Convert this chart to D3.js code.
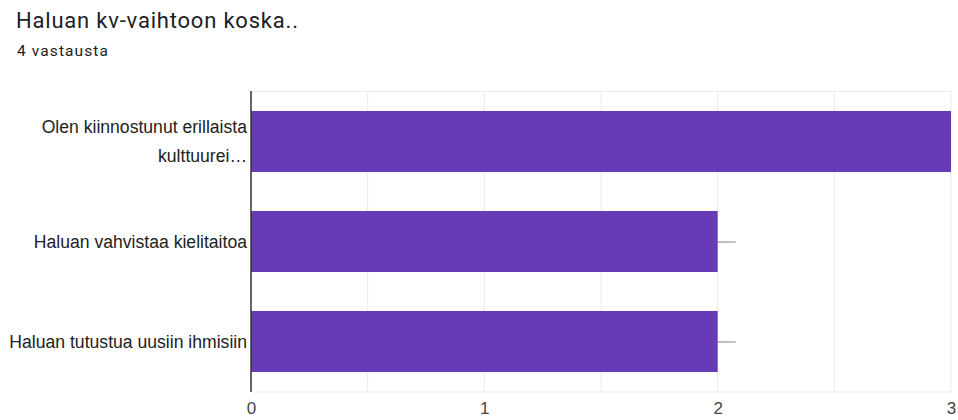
<!DOCTYPE html>
<html><head><meta charset="utf-8">
<script src="https://cdn.jsdelivr.net/npm/d3@7/dist/d3.min.js"></script>
<style>body{margin:0;background:#fff;}svg{display:block;font-family:Roboto,Arial,sans-serif;}</style>
</head><body><svg id="c" width="958" height="420"></svg>
<script>
const categories = [["Olen kiinnostunut erillaista","kulttuurei…"],["Haluan vahvistaa kielitaitoa"],["Haluan tutustua uusiin ihmisiin"]];
const values = [3, 2, 2];
const tickValues = [0, 1, 2, 3];
const gridValues = [0.5, 1, 1.5, 2, 2.5, 3];
const title = "Haluan kv-vaihtoon koska..";
const subtitle = "4 vastausta";

const svg = d3.select("#c");
const m = {left: 251, right: 951, top: 91, bottom: 392};
const x = d3.scaleLinear().domain([0, 3]).range([m.left, m.right]);
const y = d3.scaleBand().domain(d3.range(categories.length)).range([m.top, m.bottom]).paddingInner(0.39).paddingOuter(0.2);

svg.append("text").attr("x", 16).attr("y", 28).attr("font-size", 22).attr("letter-spacing", 0.8).attr("fill", "#202124").text(title);
svg.append("text").attr("x", 17).attr("y", 56).attr("font-size", 15.5).attr("letter-spacing", 1.1).attr("fill", "#202124").text(subtitle);

// grid
svg.append("g").selectAll("line").data(gridValues).join("line")
  .attr("x1", d => x(d)).attr("x2", d => x(d)).attr("y1", m.top).attr("y2", m.bottom)
  .attr("stroke", "#ebebeb").attr("stroke-width", 1);
svg.append("line").attr("x1", m.left).attr("x2", m.right).attr("y1", m.top + 0.5).attr("y2", m.top + 0.5).attr("stroke", "#ebebeb");
svg.append("line").attr("x1", m.left).attr("x2", m.right).attr("y1", m.bottom).attr("y2", m.bottom).attr("stroke", "#ebebeb");

// small whisker marks
svg.append("g").selectAll("line").data(values.filter(d => d < 3)).join("line")
  .attr("x1", d => x(d)).attr("x2", d => x(d) + 18)
  .attr("y1", (d, i) => y(i + 1) + y.bandwidth() / 2 + 0.5).attr("y2", (d, i) => y(i + 1) + y.bandwidth() / 2 + 0.5)
  .attr("stroke", "#aaaaaa").attr("stroke-width", 1.5);

// bars
svg.append("g").selectAll("rect").data(values).join("rect")
  .attr("x", x(0)).attr("y", (d, i) => y(i)).attr("width", d => x(d) - x(0)).attr("height", y.bandwidth())
  .attr("fill", "#673ab7");

// axis line
svg.append("line").attr("x1", m.left).attr("x2", m.left).attr("y1", m.top).attr("y2", m.bottom)
  .attr("stroke", "#333").attr("stroke-width", 1.5);

// x tick labels
const xAxis = svg.append("g").attr("transform", `translate(0,${m.bottom})`)
  .call(d3.axisBottom(x).tickValues(tickValues).tickFormat(d3.format("d")).tickSize(0).tickPadding(10));
xAxis.select(".domain").remove();
xAxis.selectAll("text").attr("font-size", 17).attr("fill", "#444").attr("font-family", "'Liberation Sans',Arial,sans-serif");

// category labels
const lab = svg.append("g");
categories.forEach((lines, i) => {
  const cy = y(i) + y.bandwidth() / 2;
  const lh = 29;
  const t = lab.append("text").attr("text-anchor", "end").attr("font-size", 17.6)
    .attr("font-family", "'Liberation Sans',Arial,sans-serif").attr("fill", "#222");
  lines.forEach((ln, j) => {
    t.append("tspan").attr("x", 247).attr("y", cy + 6 + (j - (lines.length - 1) / 2) * lh).text(ln);
  });
});
</script></body></html>
